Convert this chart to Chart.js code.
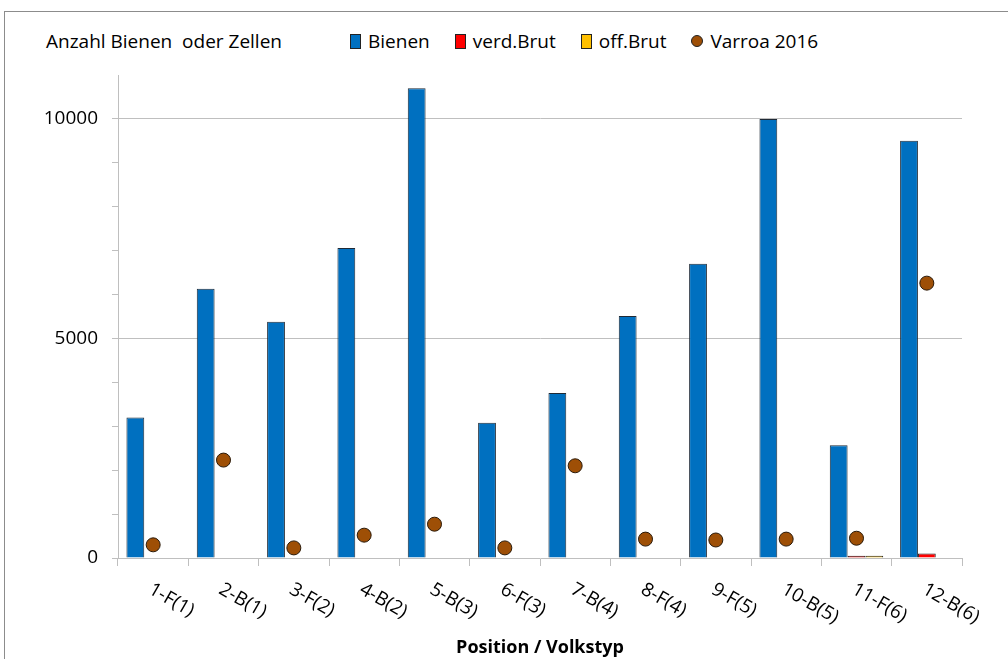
<!DOCTYPE html>
<html lang="de">
<head>
  <meta charset="UTF-8">
  <title>Bienen / Brut / Varroa</title>
  <script src="https://cdn.jsdelivr.net/npm/chart.js"></script>
  <style>
    :root {
      --font: 'Open Sans', sans-serif;
      --rahmen: #8c8c8c;
    }
    * { box-sizing:border-box; }
    body { margin:0; background:#fff; font-family:var(--font); overflow:hidden; }
    #wrap { position:relative; width:1008px; height:659px; }
    #rahmen {
      position:absolute; left:4px; top:11px; width:1100px; height:700px;
      border-left:1px solid var(--rahmen); border-top:1px solid var(--rahmen);
    }
    #ytitel {
      position:absolute; left:46px; top:28px; font-size:19px; white-space:pre; color:#000;
    }
    #legende {
      position:absolute; left:350px; top:28px; display:flex; align-items:center;
      font-size:19px; color:#000;
    }
    #legende .item { display:flex; align-items:center; margin-right:25px; }
    #legende .mark { width:11px; height:15px; margin-right:7px; border:1px solid #222; }
    #legende .mark.rund { width:12px; height:12px; border-radius:50%; }
    canvas { position:absolute; left:0; top:0; }
  </style>
</head>
<body>
<div id="wrap">
  <div id="rahmen"></div>
  <div id="ytitel">Anzahl Bienen  oder Zellen</div>
  <div id="legende"></div>
  <canvas id="chart" width="1008" height="659"></canvas>
</div>

<script>
  // Daten
  const positionen = ['1-F(1)','2-B(1)','3-F(2)','4-B(2)','5-B(3)','6-F(3)',
                      '7-B(4)','8-F(4)','9-F(5)','10-B(5)','11-F(6)','12-B(6)'];
  const bienen    = [3200, 6130, 5380, 7060, 10700, 3080, 3760, 5510, 6700, 10000, 2570, 9500];
  const verdBrut  = [null, null, null, null, null, null, null, null, null, null, 50, 100];
  const offBrut   = [null, null, null, null, null, null, null, null, null, null, 50, null];
  const varroa    = [300, 2230, 230, 520, 770, 230, 2100, 430, 410, 430, 450, 6260];
  const yTicks    = [0, 5000, 10000];

  const grau = '#bfbfbf';

  // x-Beschriftung schräg nach unten rechts (wie Excel)
  const xLabelPlugin = {
    id: 'xLabels',
    afterDraw(chart){
      const {ctx, scales:{x}} = chart;
      ctx.save();
      ctx.font = '19px "Open Sans"';
      ctx.fillStyle = '#000';
      ctx.textAlign = 'left';
      ctx.textBaseline = 'middle';
      positionen.forEach((lab,i)=>{
        const px = x.getPixelForValue(i);
        ctx.save();
        ctx.translate(px - 3, x.top + 30);
        ctx.rotate(Math.PI/6);
        ctx.fillText(lab, 0, 0);
        ctx.restore();
      });
      ctx.restore();
    }
  };

  const chart = new Chart(document.getElementById('chart'), {
    type: 'bar',
    data: {
      labels: positionen,
      datasets: [
        { label:'Bienen', data:bienen, backgroundColor:'#0070c0', borderColor:'#1f2a36', borderWidth:1, order:2 },
        { label:'verd.Brut', data:verdBrut, backgroundColor:'#ff0000', borderColor:'#222', borderWidth:1, order:2 },
        { label:'off.Brut', data:offBrut, backgroundColor:'#ffc000', borderColor:'#222', borderWidth:1, order:2 },
        { label:'Varroa 2016', type:'line', data:varroa, showLine:false,
          pointRadius:7, pointHoverRadius:7, pointBackgroundColor:'#9e4f06',
          pointBorderColor:'#2a1a0a', pointBorderWidth:1, backgroundColor:'#9e4f06', order:1 }
      ]
    },
    options: {
      responsive:false,
      animation:false,
      layout: { padding:{ left:0, right:46, top:75, bottom:0 } },
      datasets: { bar: { categoryPercentage:0.76, barPercentage:1.0 } },
      plugins: { legend:{ display:false }, tooltip:{ enabled:false } },
      scales: {
        x: {
          offset:true,
          grid: { offset:true, drawOnChartArea:false, color:grau, tickLength:8 },
          border: { color:grau },
          ticks: { display:false },
          title: { display:true, text:'Position / Volkstyp', color:'#000',
                   font:{ family:'Open Sans', size:18, weight:'bold' }, padding:{ top:0, bottom:0 } },
          afterFit(scale){ scale.height = 101; }
        },
        y: {
          min:0, max:11000,
          ticks: {
            stepSize:1000, padding:14, color:'#000',
            font:{ family:'Open Sans', size:19 },
            callback: v => yTicks.includes(v) ? v : ''
          },
          grid: {
            tickLength:6,
            color: c => (c.tick && (c.tick.value === 5000 || c.tick.value === 10000)) ? grau : 'transparent',
            tickColor: c => (c.tick && c.tick.value === 11000) ? 'transparent' : grau
          },
          border: { color:grau },
          afterFit(scale){ scale.width = 118; }
        }
      }
    },
    plugins: [xLabelPlugin]
  });

  // Legende aus den Datensätzen
  const leg = document.getElementById('legende');
  chart.data.datasets.forEach(ds=>{
    const item = document.createElement('div');
    item.className = 'item';
    const m = document.createElement('span');
    m.className = 'mark' + (ds.type === 'line' ? ' rund' : '');
    m.style.background = ds.backgroundColor;
    item.appendChild(m);
    item.appendChild(document.createTextNode(ds.label));
    leg.appendChild(item);
  });
</script>
</body>
</html>
